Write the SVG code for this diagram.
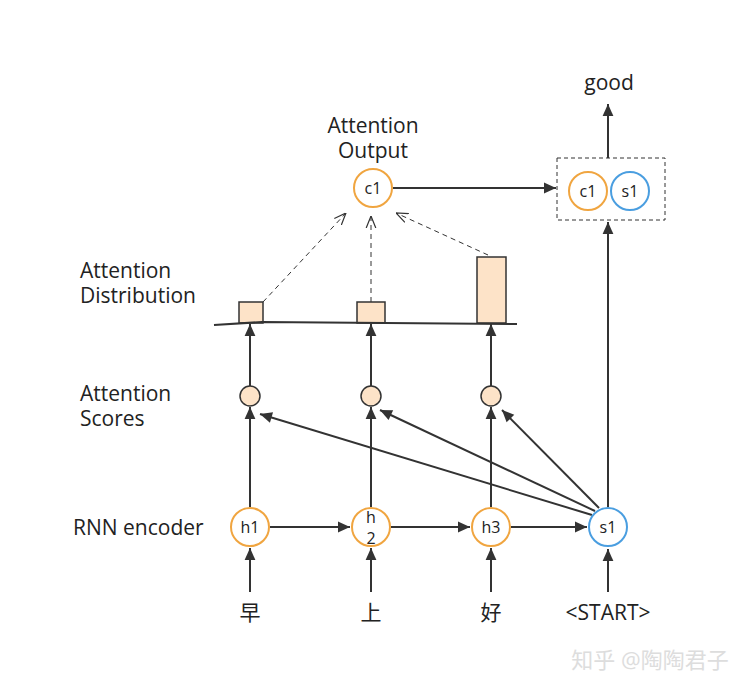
<svg xmlns="http://www.w3.org/2000/svg" width="750" height="694" viewBox="0 0 750 694">
<style>
text{font-family:"Open Sans","Noto Sans","Noto Sans CJK SC",sans-serif;fill:#222;}
.lbl{font-size:21px;}
.nt{font-size:16px;text-anchor:middle;dominant-baseline:central;}
.on{fill:#fff;stroke:#f0a540;stroke-width:2;}
.bn{fill:#fff;stroke:#4a9ee0;stroke-width:2;}
.sc{fill:#fde3c8;stroke:#333;stroke-width:1.5;}
.ln{stroke:#333;stroke-width:2;fill:none;}
.da{stroke:#333;stroke-width:1;fill:none;stroke-dasharray:5,4;}
</style>
<defs>
<marker id="ah2" viewBox="0 0 10 10" refX="10" refY="5" markerWidth="16" markerHeight="12" markerUnits="userSpaceOnUse" orient="auto"><path d="M0,0.5 L10,5 L0,9.5 Z" fill="#333"/></marker>
<marker id="oa" viewBox="0 0 10 10" refX="10" refY="5" markerWidth="12" markerHeight="12" markerUnits="userSpaceOnUse" orient="auto"><path d="M0,1 L10,5 L0,9" fill="none" stroke="#333" stroke-width="1"/></marker>
</defs>
<rect width="750" height="694" fill="#fff"/>

<g id="labels">
<text class="lbl" x="80" y="278">Attention<tspan x="80" dy="25">Distribution</tspan></text>
<text class="lbl" x="80" y="401">Attention<tspan x="80" dy="25">Scores</tspan></text>
<text class="lbl" x="73" y="535">RNN encoder</text>
<text class="lbl" x="373" y="133" text-anchor="middle">Attention<tspan x="373" dy="25">Output</tspan></text>
<text class="lbl" x="609" y="90" text-anchor="middle">good</text>
</g>

<g id="connectors">
<line class="ln" x1="250" y1="592" x2="250" y2="548" marker-end="url(#ah2)"/>
<line class="ln" x1="371" y1="592" x2="371" y2="548" marker-end="url(#ah2)"/>
<line class="ln" x1="491" y1="592" x2="491" y2="548" marker-end="url(#ah2)"/>
<line class="ln" x1="608" y1="592" x2="608" y2="549" marker-end="url(#ah2)"/>
<line class="ln" x1="270" y1="527" x2="350" y2="527" marker-end="url(#ah2)"/>
<line class="ln" x1="391" y1="527" x2="470" y2="527" marker-end="url(#ah2)"/>
<line class="ln" x1="511" y1="527" x2="587" y2="527" marker-end="url(#ah2)"/>
<line class="ln" x1="250" y1="507" x2="250" y2="407" marker-end="url(#ah2)"/>
<line class="ln" x1="371" y1="507" x2="371" y2="407" marker-end="url(#ah2)"/>
<line class="ln" x1="491" y1="507" x2="491" y2="407" marker-end="url(#ah2)"/>
<line class="ln" x1="592" y1="515" x2="260" y2="414" marker-end="url(#ah2)"/>
<line class="ln" x1="595" y1="511" x2="380" y2="410" marker-end="url(#ah2)"/>
<line class="ln" x1="599" y1="508" x2="502" y2="410" marker-end="url(#ah2)"/>
<line class="ln" x1="250" y1="386" x2="250" y2="324" marker-end="url(#ah2)"/>
<line class="ln" x1="371" y1="386" x2="371" y2="324" marker-end="url(#ah2)"/>
<line class="ln" x1="491" y1="386" x2="491" y2="324" marker-end="url(#ah2)"/>
<line class="ln" x1="608" y1="507" x2="608" y2="222" marker-end="url(#ah2)"/>
<line class="ln" x1="608" y1="158" x2="608" y2="104" marker-end="url(#ah2)"/>
<line class="ln" x1="393" y1="188" x2="556" y2="188" marker-end="url(#ah2)"/>
<line class="da" x1="263" y1="302" x2="346" y2="213" marker-end="url(#oa)"/>
<line class="da" x1="371" y1="302" x2="371" y2="216" marker-end="url(#oa)"/>
<line class="da" x1="488" y1="255" x2="396" y2="213" marker-end="url(#oa)"/>
</g>

<g id="distribution">
<rect class="sc" x="239" y="302" width="24" height="21"/>
<rect class="sc" x="357" y="302" width="28" height="21"/>
<rect class="sc" x="477" y="257" width="29" height="66"/>
<path d="M214,325 L262,322 L517,324" class="ln" stroke-width="1.8"/>
</g>

<g id="scores">
<circle class="sc" cx="250" cy="396" r="10"/>
<circle class="sc" cx="371" cy="396" r="10"/>
<circle class="sc" cx="491" cy="396" r="10"/>
</g>

<g id="h1"><circle class="on" cx="250" cy="527" r="19"/><text class="nt" x="250" y="527">h1</text></g>
<g id="h2"><circle class="on" cx="371" cy="527" r="19"/><text class="nt" x="371" y="517">h<tspan x="371" dy="21">2</tspan></text></g>
<g id="h3"><circle class="on" cx="491" cy="527" r="19"/><text class="nt" x="491" y="527">h3</text></g>
<g id="s1"><circle class="bn" cx="608" cy="527" r="19"/><text class="nt" x="608" y="527">s1</text></g>
<g id="c1"><circle class="on" cx="373" cy="188" r="19"/><text class="nt" x="373" y="188">c1</text></g>
<g id="concat">
<rect x="557" y="158" width="108" height="62" fill="none" stroke="#333" stroke-width="1" stroke-dasharray="4,3"/>
<circle class="on" cx="588" cy="191" r="19"/><text class="nt" x="588" y="191">c1</text>
<circle class="bn" cx="630" cy="191" r="19"/><text class="nt" x="630" y="191">s1</text>
</g>

<g id="inputs">
<text class="lbl" x="250" y="620" text-anchor="middle">早</text>
<text class="lbl" x="371" y="620" text-anchor="middle">上</text>
<text class="lbl" x="491" y="620" text-anchor="middle">好</text>
<text class="lbl" x="608" y="620" text-anchor="middle">&lt;START&gt;</text>
</g>

<text x="650" y="668" text-anchor="middle" style="font-size:22px;fill:#ddd;">知乎 @陶陶君子</text>
</svg>
